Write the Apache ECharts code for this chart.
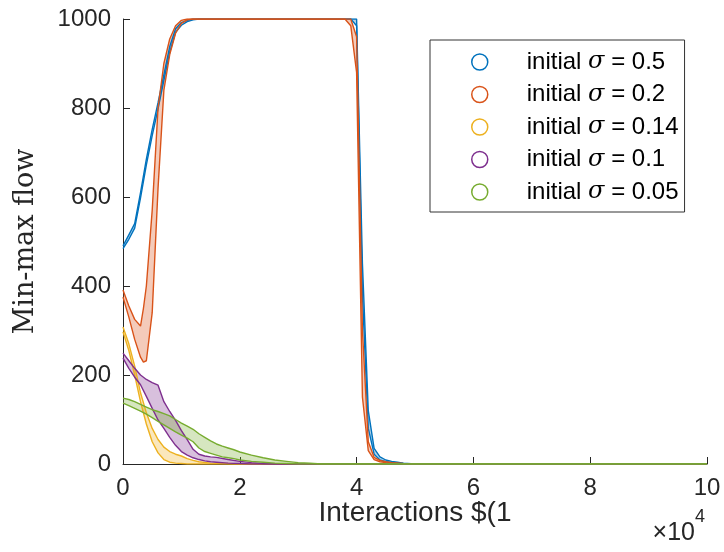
<!DOCTYPE html>
<html><head><meta charset="utf-8">
<script src="https://cdn.jsdelivr.net/npm/echarts@6/dist/echarts.min.js"></script>
<style>html,body{margin:0;padding:0;background:#fff}#c{width:724px;height:552px}</style>
</head><body><div id="c"></div><script>
// legend labels
const sigmaLabels = ['0.5', '0.2', '0.14', '0.1', '0.05'];
// x tick labels (in units of 10^4)
const xTicks = [0, 2, 4, 6, 8, 10];
// y tick labels
const yTicks = [0, 200, 400, 600, 800, 1000];

// sigma = 0.5 (blue)
const blueX    = [0,1000,2000,3000,4000,5000,6000,7000,8000,9000,10000,11000,12000,13000,39000,40000,41000,42000,43000,44000,45000,46000,47000,48000,50000,100000];
const blueLow  = [484,505,530,598,672,738,798,862,925,970,986,994,998,1000,1000,985,380,80,22,9,5,3,2,1,0,0];
const blueHigh = [490,515,540,610,685,752,812,875,938,978,992,997,1000,1000,1000,1000,450,120,35,16,9,6,4,2,0,0];

// sigma = 0.2 (orange)
const orangeX    = [0,1000,2000,3000,3500,4000,5000,6000,7000,8000,9000,10000,11000,12000,38000,39000,40000,41000,42000,43000,44000,45000,46000,48000,50000,100000];
const orangeLow  = [375,330,280,240,229,232,340,620,840,920,968,990,998,1000,1000,985,880,150,30,10,5,3,2,0,0,0];
const orangeHigh = [391,355,325,310,350,400,570,800,900,955,985,997,1000,1000,1000,1000,960,300,50,15,8,5,3,1,0,0];

// sigma = 0.14 (yellow)
const yellowX    = [0,1000,2000,3000,4000,5000,6000,7000,8000,9000,10000,11000,12000,13000,15000,18000,20000,100000];
const yellowLow  = [297,255,200,140,90,50,25,10,4,2,1,0,0,0,0,0,0,0];
const yellowHigh = [308,270,220,160,115,80,55,38,28,22,18,12,8,5,2,1,0,0];

// sigma = 0.1 (purple)
const purpleX    = [0,1000,2000,3000,4000,5000,6000,7000,8000,9000,10000,11000,12000,13000,14000,15000,16000,18000,20000,22000,24000,26000,100000];
const purpleLow  = [238,215,195,178,152,125,99,80,60,42,28,20,14,10,7,5,4,2,1,0,0,0,0];
const purpleHigh = [249,232,215,200,190,183,177,140,118,98,75,55,33,22,18,16,15,10,6,3,1,0,0];

// sigma = 0.05 (green)
const greenX    = [0,1000,2000,3000,4000,5000,6000,7000,8000,9000,10000,11000,12000,13000,14000,15000,16000,17000,18000,19000,20000,22000,24000,26000,28000,30000,32000,34000,100000];
const greenLow  = [137,131,125,119,112,104,96,88,80,72,65,58,50,36,28,24,20,16,14,12,9,6,4,2,1,0,0,0,0];
const greenHigh = [148,145,140,134,128,122,118,113,108,100,92,85,78,68,60,52,45,40,36,32,27,20,14,9,6,3,2,0,0];

const colors = ['#0072BD', '#D95319', '#EDB120', '#7E2F8E', '#77AC30'];
const fills = ['rgba(0,114,189,0.3)', 'rgba(217,83,25,0.3)', 'rgba(237,177,32,0.3)', 'rgba(126,47,142,0.3)', 'rgba(119,172,48,0.3)'];

const bands = [
  {x: blueX, low: blueLow, high: blueHigh},
  {x: orangeX, low: orangeLow, high: orangeHigh},
  {x: yellowX, low: yellowLow, high: yellowHigh},
  {x: purpleX, low: purpleLow, high: purpleHigh},
  {x: greenX, low: greenLow, high: greenHigh}
];

const names = sigmaLabels.map(s => 'initial σ = ' + s);
const series = [];
bands.forEach((b, i) => {
  series.push({
    type: 'custom', name: names[i] + ' band', silent: true,
    coordinateSystem: 'cartesian2d',
    data: [[b.x[0], b.low[0]]],
    encode: {x: 0, y: 1},
    renderItem: function (params, api) {
      const pts = [];
      for (let k = 0; k < b.x.length; k++) pts.push(api.coord([b.x[k], b.low[k]]));
      for (let k = b.x.length - 1; k >= 0; k--) pts.push(api.coord([b.x[k], b.high[k]]));
      return {type: 'polygon', shape: {points: pts}, style: {fill: fills[i], stroke: null}};
    }
  });
  series.push({
    type: 'line', name: names[i] + ' low', symbol: 'none',
    data: b.x.map((x, k) => [x, b.low[k]]),
    lineStyle: {color: colors[i], width: 1.4}, itemStyle: {color: colors[i]}
  });
  series.push({
    type: 'line', name: names[i], symbol: 'none',
    data: b.x.map((x, k) => [x, b.high[k]]),
    lineStyle: {color: colors[i], width: 1.4}, itemStyle: {color: colors[i]}
  });
});

const axisColor = '#262626';
const chart = echarts.init(document.getElementById('c'), null, {renderer: 'canvas'});
chart.setOption({
  animation: false,
  backgroundColor: '#fff',
  grid: {left: 123, right: 17, top: 19, bottom: 88, containLabel: false},
  xAxis: {
    type: 'value', min: 0, max: 100000, interval: 20000,
    axisLine: {show: true, lineStyle: {color: axisColor, width: 1}},
    axisTick: {show: true, inside: true, length: 7, lineStyle: {color: axisColor}},
    splitLine: {show: false},
    axisLabel: {fontSize: 24, color: axisColor, fontFamily: 'Liberation Sans', margin: 12,
      formatter: v => String(xTicks[Math.round(v / 20000)])}
  },
  yAxis: {
    type: 'value', min: 0, max: 1000, interval: 200,
    axisLine: {show: true, lineStyle: {color: axisColor, width: 1}},
    axisTick: {show: true, inside: true, length: 7, lineStyle: {color: axisColor}},
    splitLine: {show: false},
    axisLabel: {fontSize: 24, color: axisColor, fontFamily: 'Liberation Sans', margin: 12,
      formatter: v => String(yTicks[Math.round(v / 200)])},
    name: 'Min-max flow', nameLocation: 'middle', nameGap: 84,
    nameTextStyle: {fontSize: 27, color: axisColor, fontFamily: 'DejaVu Serif'}
  },
  legend: {
    orient: 'vertical', left: 430, top: 40,
    padding: [10, 6, 8, 41],
    itemWidth: 16, itemHeight: 16, itemGap: 8.5,
    borderColor: '#333', borderWidth: 1, backgroundColor: '#fff',
    data: names.map((n, i) => ({name: n, icon: 'circle',
      itemStyle: {color: 'rgba(255,255,255,0)', borderColor: colors[i], borderWidth: 1.5}})),
    formatter: function (n) {
      const s = n.split('= ')[1];
      return '{g| }{a|initial }{s|σ}{a| = ' + s + '}';
    },
    textStyle: {
      fontSize: 24, lineHeight: 24, color: '#000',
      rich: {
        g: {width: 34, fontSize: 24, lineHeight: 24},
        a: {fontSize: 24, fontFamily: 'Liberation Sans', color: '#000', lineHeight: 24},
        s: {fontSize: 24, fontFamily: 'DejaVu Serif', fontStyle: 'italic', color: '#000', lineHeight: 24}
      }
    }
  },
  graphic: [
    {type: 'text', x: 415, y: 513, style: {text: 'Interactions $(1', fontSize: 28, fontFamily: 'Liberation Sans', fill: axisColor, align: 'center', verticalAlign: 'middle'}},
    {type: 'text', right: 724 - 695, top: 521, style: {text: '×10', fontSize: 25, fontFamily: 'Liberation Sans', fill: axisColor}},
    {type: 'text', left: 695, top: 508, style: {text: '4', fontSize: 18, fontFamily: 'Liberation Sans', fill: axisColor}}
  ],
  series: series
});
</script></body></html>
